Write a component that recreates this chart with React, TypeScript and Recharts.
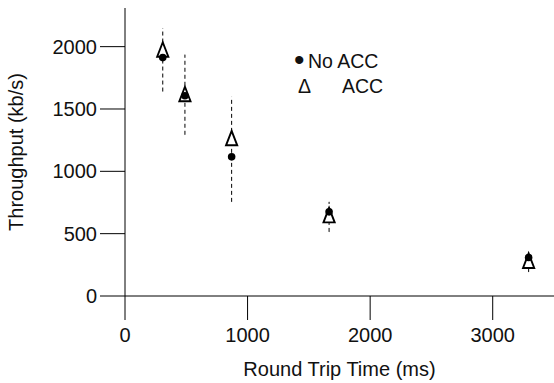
import { ErrorBar, Label, Scatter, ScatterChart, XAxis, YAxis } from 'recharts';

const rttMs = [308, 489, 870, 1665, 3293];
const noAccKbps = [1912, 1606, 1116, 675, 309];
const accKbps = [1975, 1618, 1265, 647, 281];
const spreadLow = [1640, 1293, 755, 514, 193];
const spreadHigh = [2148, 1936, 1598, 755, 345];
const xTicks = [0, 1000, 2000, 3000];
const yTicks = [0, 500, 1000, 1500, 2000];

const noAccData = rttMs.map((rtt, i) => ({
  rtt,
  throughput: noAccKbps[i],
  spread: [noAccKbps[i] - spreadLow[i], spreadHigh[i] - noAccKbps[i]],
}));
const accData = rttMs.map((rtt, i) => ({ rtt, throughput: accKbps[i] }));

const FONT = '"Liberation Sans", Arial, sans-serif';
const INK = '#111';

function Dot(props: any) {
  const { cx, cy } = props;
  return <circle cx={cx} cy={cy} r={3.8} fill="#000" />;
}

function Triangle(props: any) {
  const { cx, cy } = props;
  const d = `M${cx},${cy - 7.5} L${cx + 5.6},${cy + 7} L${cx - 5.6},${cy + 7} Z`;
  return <path d={d} fill="#fff" stroke="#000" strokeWidth={1.9} strokeLinejoin="miter" />;
}

function YTitle(props: any) {
  const { viewBox } = props;
  const cy = viewBox.y + viewBox.height / 2;
  return (
    <text
      x={23}
      y={cy}
      transform={`rotate(-90, 23, ${cy})`}
      textAnchor="middle"
      fontSize={20}
      fontFamily={FONT}
      fill={INK}
    >
      Throughput (kb/s)
    </text>
  );
}

function XTitle(props: any) {
  const { viewBox } = props;
  return (
    <text
      x={viewBox.x + viewBox.width / 2}
      y={376}
      textAnchor="middle"
      fontSize={20}
      fontFamily={FONT}
      fill={INK}
    >
      Round Trip Time (ms)
    </text>
  );
}

export default function App() {
  const tick = { fill: INK, fontSize: 20, fontFamily: FONT };
  return (
    <div style={{ position: 'absolute', left: 0, top: 0, width: 554, height: 383, background: '#fff' }}>
      <ScatterChart width={554} height={383} margin={{ top: 8, right: 0, bottom: 0, left: 0 }}>
        <XAxis
          type="number"
          dataKey="rtt"
          domain={[0, 3500]}
          ticks={xTicks}
          height={87}
          tickSize={24}
          tickMargin={8}
          tick={tick}
          axisLine={{ stroke: '#000' }}
          tickLine={{ stroke: '#000' }}
        >
          <Label content={XTitle} />
        </XAxis>
        <YAxis
          type="number"
          dataKey="throughput"
          domain={[0, 2310]}
          ticks={yTicks}
          width={125}
          tickSize={25}
          tickMargin={3}
          tick={tick}
          axisLine={{ stroke: '#000' }}
          tickLine={{ stroke: '#000' }}
        >
          <Label content={YTitle} />
        </YAxis>
        <Scatter data={accData} shape={Triangle} isAnimationActive={false} />
        <Scatter data={noAccData} shape={Dot} isAnimationActive={false}>
          <ErrorBar
            dataKey="spread"
            direction="y"
            width={0}
            stroke="#000"
            strokeWidth={1}
            strokeDasharray="4 3"
          />
        </Scatter>
      </ScatterChart>
      <svg
        width={554}
        height={383}
        style={{ position: 'absolute', left: 0, top: 0, pointerEvents: 'none' }}
        fontFamily={FONT}
        fontSize={19.5}
        fill={INK}
      >
        <text x={294} y={70} fontSize={30}>•</text>
        <text x={308} y={68}>No ACC</text>
        <text x={298} y={93}>Δ</text>
        <text x={342} y={93}>ACC</text>
      </svg>
    </div>
  );
}
